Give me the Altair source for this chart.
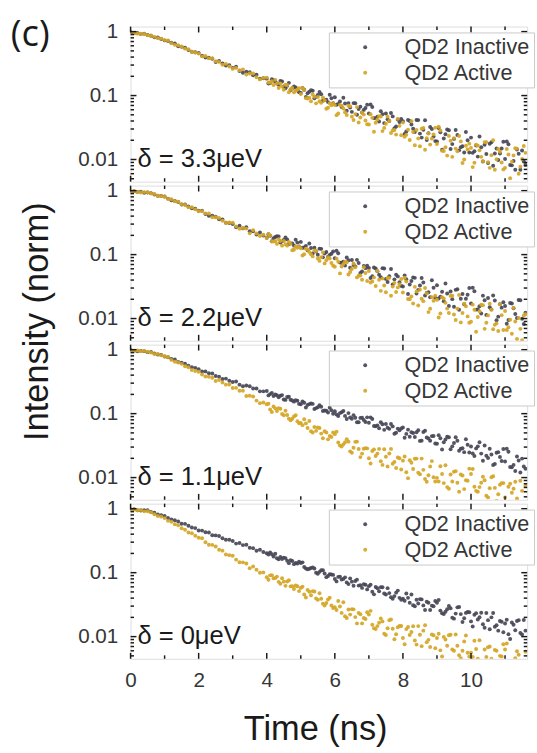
import altair as alt
import pandas as pd

# ---------------- data ----------------
time_ns = [0.0, 0.1, 0.2, 0.3, 0.4, 0.5, 0.6, 0.7, 0.8, 0.9,
           1.0, 1.1, 1.2, 1.3, 1.4, 1.5, 1.6, 1.7, 1.8, 1.9,
           2.0, 2.1, 2.2, 2.3, 2.4, 2.5, 2.6, 2.7, 2.8, 2.9,
           3.0, 3.1, 3.2, 3.3, 3.4, 3.5, 3.6, 3.7, 3.8, 3.9,
           4.0, 4.1, 4.2, 4.3, 4.4, 4.5, 4.6, 4.7, 4.8, 4.9,
           5.0, 5.1, 5.2, 5.3, 5.4, 5.5, 5.6, 5.7, 5.8, 5.9,
           6.0, 6.1, 6.2, 6.3, 6.4, 6.5, 6.6, 6.7, 6.8, 6.9,
           7.0, 7.1, 7.2, 7.3, 7.4, 7.5, 7.6, 7.7, 7.8, 7.9,
           8.0, 8.1, 8.2, 8.3, 8.4, 8.5, 8.6, 8.7, 8.8, 8.9,
           9.0, 9.1, 9.2, 9.3, 9.4, 9.5, 9.6, 9.7, 9.8, 9.9,
           10.0, 10.1, 10.2, 10.3, 10.4, 10.5, 10.6, 10.7, 10.8, 10.9,
           11.0, 11.1, 11.2, 11.3, 11.4, 11.5, 11.6]

# extra (interleaved) time bins of the noisy tail
time_late_ns = [4.05, 4.15, 4.25, 4.35, 4.45, 4.55, 4.65, 4.75, 4.85, 4.95,
                5.05, 5.15, 5.25, 5.35, 5.45, 5.55, 5.65, 5.75, 5.85, 5.95,
                6.05, 6.15, 6.25, 6.35, 6.45, 6.55, 6.65, 6.75, 6.85, 6.95,
                7.05, 7.15, 7.25, 7.35, 7.45, 7.55, 7.65, 7.75, 7.85, 7.95,
                8.05, 8.15, 8.25, 8.35, 8.45, 8.55, 8.65, 8.75, 8.85, 8.95,
                9.05, 9.15, 9.25, 9.35, 9.45, 9.55, 9.65, 9.75, 9.85, 9.95,
                10.05, 10.15, 10.25, 10.35, 10.45, 10.55, 10.65, 10.75, 10.85, 10.95,
                11.05, 11.15, 11.25, 11.35, 11.45, 11.55]

# panel 1: delta = 3.3 ueV
p1_inactive = [0.982, 0.945, 0.952, 0.921, 0.924, 0.883, 0.861, 0.813, 0.808, 0.765,
               0.729, 0.713, 0.668, 0.653, 0.590, 0.578, 0.558, 0.514, 0.483, 0.477,
               0.463, 0.420, 0.393, 0.390, 0.376, 0.335, 0.348, 0.318, 0.296, 0.297,
               0.271, 0.282, 0.242, 0.227, 0.237, 0.232, 0.208, 0.211, 0.183, 0.187,
               0.184, 0.157, 0.174, 0.155, 0.169, 0.139, 0.142, 0.122, 0.139, 0.121,
               0.110, 0.123, 0.109, 0.121, 0.091, 0.102, 0.105, 0.086, 0.079, 0.091,
               0.0942, 0.0740, 0.0661, 0.0750, 0.0762, 0.0556, 0.0759, 0.0618, 0.0542, 0.0638,
               0.0525, 0.0663, 0.0441, 0.0394, 0.0511, 0.0525, 0.0400, 0.0472, 0.0328, 0.0387,
               0.0397, 0.0274, 0.0400, 0.0302, 0.0416, 0.0254, 0.0291, 0.0202, 0.0322, 0.0229,
               0.0192, 0.0267, 0.0213, 0.0295, 0.0146, 0.0210, 0.0242, 0.0155, 0.0129, 0.0200,
               0.0220, 0.0135, 0.0111, 0.0155, 0.0170, 0.0088, 0.0186, 0.0124, 0.0098, 0.0149,
               0.0102, 0.0173, 0.0081, 0.0069, 0.0123, 0.0138, 0.0083]
p1_inactive_late = [0.154, 0.180, 0.166, 0.147, 0.166, 0.130, 0.158, 0.130, 0.134, 0.113,
                    0.132, 0.0948, 0.115, 0.119, 0.0955, 0.114, 0.0832, 0.0858, 0.103, 0.0757,
                    0.0720, 0.0806, 0.0926, 0.0579, 0.0648, 0.0762, 0.0501, 0.0671, 0.0597, 0.0721,
                    0.0727, 0.0444, 0.0467, 0.0569, 0.0371, 0.0425, 0.0534, 0.0308, 0.0422, 0.0430,
                    0.0250, 0.0415, 0.0353, 0.0269, 0.0413, 0.0220, 0.0410, 0.0257, 0.0299, 0.0194,
                    0.0310, 0.0142, 0.0249, 0.0287, 0.0174, 0.0289, 0.0139, 0.0161, 0.0269, 0.0129,
                    0.0127, 0.0166, 0.0229, 0.0093, 0.0122, 0.0176, 0.0080, 0.0149, 0.0124, 0.0189,
                    0.0191, 0.0082, 0.0095, 0.0143, 0.0069, 0.0093]
p1_active = [0.991, 0.954, 0.930, 0.928, 0.916, 0.875, 0.873, 0.828, 0.791, 0.777,
             0.737, 0.725, 0.659, 0.621, 0.612, 0.586, 0.542, 0.529, 0.483, 0.471,
             0.453, 0.410, 0.417, 0.382, 0.385, 0.343, 0.336, 0.303, 0.313, 0.285,
             0.262, 0.271, 0.249, 0.257, 0.213, 0.222, 0.221, 0.194, 0.179, 0.189,
             0.191, 0.160, 0.146, 0.154, 0.154, 0.123, 0.146, 0.126, 0.113, 0.123,
             0.106, 0.122, 0.090, 0.0815, 0.0955, 0.0952, 0.0771, 0.0847, 0.0643, 0.0706,
             0.0709, 0.0525, 0.0692, 0.0549, 0.0692, 0.0468, 0.0513, 0.0380, 0.0537, 0.0408,
             0.0353, 0.0448, 0.0375, 0.0476, 0.0278, 0.0363, 0.0400, 0.0284, 0.0245, 0.0336,
             0.0379, 0.0243, 0.0202, 0.0270, 0.0290, 0.0161, 0.0311, 0.0215, 0.0171, 0.0247,
             0.0175, 0.0285, 0.0136, 0.0115, 0.0197, 0.0216, 0.0134, 0.0192, 0.0100, 0.0143,
             0.0152, 0.0089, 0.0165, 0.0110, 0.0187, 0.0091, 0.0117, 0.0069, 0.0146, 0.0090,
             0.0074, 0.0120, 0.0092, 0.0150, 0.0060, 0.0102, 0.0127]
p1_active_late = [0.160, 0.167, 0.176, 0.131, 0.138, 0.148, 0.113, 0.131, 0.119, 0.130,
                  0.132, 0.0911, 0.0926, 0.104, 0.0755, 0.0814, 0.0931, 0.0623, 0.0759, 0.0752,
                  0.0494, 0.0715, 0.0626, 0.0498, 0.0683, 0.0416, 0.0660, 0.0454, 0.0504, 0.0357,
                  0.0510, 0.0272, 0.0421, 0.0471, 0.0312, 0.0468, 0.0259, 0.0289, 0.0432, 0.0239,
                  0.0227, 0.0293, 0.0396, 0.0167, 0.0214, 0.0304, 0.0142, 0.0256, 0.0212, 0.0315,
                  0.0325, 0.0137, 0.0155, 0.0234, 0.0110, 0.0148, 0.0233, 0.0088, 0.0164, 0.0177,
                  0.0076, 0.0170, 0.0139, 0.0094, 0.0187, 0.0074, 0.0200, 0.0101, 0.0132, 0.0070,
                  0.0146, 0.0051, 0.0116, 0.0148, 0.0077, 0.0163]

# panel 2: delta = 2.2 ueV
p2_inactive = [0.966, 0.975, 0.957, 0.966, 0.927, 0.936, 0.915, 0.869, 0.835, 0.827,
               0.812, 0.751, 0.707, 0.691, 0.664, 0.607, 0.609, 0.566, 0.532, 0.523,
               0.485, 0.487, 0.431, 0.404, 0.407, 0.392, 0.356, 0.353, 0.315, 0.311,
               0.301, 0.267, 0.283, 0.257, 0.267, 0.232, 0.232, 0.206, 0.222, 0.199,
               0.183, 0.197, 0.181, 0.194, 0.155, 0.169, 0.173, 0.150, 0.138, 0.154,
               0.158, 0.129, 0.117, 0.127, 0.128, 0.0993, 0.123, 0.104, 0.0928, 0.103,
               0.0879, 0.105, 0.0745, 0.0673, 0.0817, 0.0824, 0.0655, 0.0738, 0.0545, 0.0614,
               0.0616, 0.0459, 0.0608, 0.0485, 0.0614, 0.0417, 0.0459, 0.0342, 0.0485, 0.0369,
               0.0318, 0.0411, 0.0340, 0.0440, 0.0246, 0.0328, 0.0365, 0.0252, 0.0215, 0.0304,
               0.0331, 0.0220, 0.0186, 0.0247, 0.0265, 0.0153, 0.0287, 0.0204, 0.0167, 0.0236,
               0.0172, 0.0268, 0.0139, 0.0120, 0.0193, 0.0210, 0.0139, 0.0191, 0.0107, 0.0148,
               0.0157, 0.0095, 0.0172, 0.0118, 0.0195, 0.0099, 0.0123]
p2_inactive_late = [0.209, 0.162, 0.188, 0.192, 0.161, 0.185, 0.145, 0.150, 0.171, 0.134,
                    0.128, 0.137, 0.149, 0.104, 0.112, 0.124, 0.0906, 0.110, 0.0991, 0.112,
                    0.115, 0.0750, 0.0773, 0.0903, 0.0622, 0.0689, 0.0828, 0.0514, 0.0665, 0.0669,
                    0.0431, 0.0628, 0.0551, 0.0442, 0.0608, 0.0372, 0.0594, 0.0410, 0.0456, 0.0324,
                    0.0471, 0.0242, 0.0386, 0.0433, 0.0281, 0.0431, 0.0229, 0.0257, 0.0396, 0.0211,
                    0.0206, 0.0263, 0.0353, 0.0157, 0.0201, 0.0281, 0.0137, 0.0242, 0.0204, 0.0300,
                    0.0304, 0.0138, 0.0156, 0.0228, 0.0114, 0.0150, 0.0230, 0.0094, 0.0168, 0.0180,
                    0.0083, 0.0175, 0.0145, 0.0102, 0.0193, 0.0082]
p2_active = [0.973, 0.985, 0.949, 0.936, 0.949, 0.945, 0.899, 0.884, 0.835, 0.821,
             0.801, 0.740, 0.733, 0.683, 0.673, 0.615, 0.596, 0.550, 0.551, 0.510,
             0.476, 0.475, 0.441, 0.438, 0.383, 0.383, 0.373, 0.338, 0.315, 0.317,
             0.314, 0.275, 0.254, 0.261, 0.255, 0.215, 0.240, 0.214, 0.196, 0.204,
             0.182, 0.200, 0.160, 0.147, 0.163, 0.163, 0.138, 0.147, 0.119, 0.128,
             0.126, 0.101, 0.120, 0.101, 0.116, 0.0871, 0.0913, 0.0729, 0.0914, 0.0741,
             0.0645, 0.0771, 0.0652, 0.0777, 0.0488, 0.0596, 0.0635, 0.0467, 0.0404, 0.0516,
             0.0555, 0.0381, 0.0323, 0.0404, 0.0421, 0.0257, 0.0433, 0.0316, 0.0260, 0.0345,
             0.0255, 0.0380, 0.0201, 0.0172, 0.0265, 0.0283, 0.0187, 0.0249, 0.0142, 0.0189,
             0.0197, 0.0120, 0.0206, 0.0143, 0.0226, 0.0116, 0.0143, 0.0087, 0.0170, 0.0108,
             0.0089, 0.0137, 0.0106, 0.0164, 0.0069, 0.0112, 0.0137, 0.0080, 0.0064, 0.0113,
             0.0131, 0.0073, 0.0058, 0.0090, 0.0102, 0.0046, 0.0117]
p2_active_late = [0.211, 0.161, 0.162, 0.174, 0.138, 0.145, 0.158, 0.117, 0.134, 0.133,
                  0.0971, 0.124, 0.110, 0.0938, 0.114, 0.0797, 0.108, 0.0818, 0.0866, 0.0670,
                  0.0864, 0.0508, 0.0711, 0.0760, 0.0534, 0.0725, 0.0440, 0.0470, 0.0637, 0.0386,
                  0.0365, 0.0440, 0.0553, 0.0271, 0.0328, 0.0429, 0.0227, 0.0361, 0.0307, 0.0416,
                  0.0436, 0.0202, 0.0222, 0.0313, 0.0160, 0.0204, 0.0300, 0.0126, 0.0216, 0.0227,
                  0.0104, 0.0216, 0.0176, 0.0122, 0.0227, 0.0095, 0.0233, 0.0122, 0.0155, 0.0086,
                  0.0165, 0.0062, 0.0130, 0.0161, 0.0086, 0.0171, 0.0068, 0.0084, 0.0167, 0.0066,
                  0.0066, 0.0096, 0.0146, 0.0048, 0.0069, 0.0112]

# panel 3: delta = 1.1 ueV
p3_inactive = [0.991, 0.963, 0.947, 0.954, 0.950, 0.916, 0.919, 0.875, 0.839, 0.829,
               0.783, 0.764, 0.719, 0.701, 0.641, 0.627, 0.604, 0.561, 0.530, 0.520,
               0.495, 0.456, 0.458, 0.427, 0.425, 0.387, 0.378, 0.348, 0.353, 0.327,
               0.313, 0.318, 0.284, 0.269, 0.275, 0.268, 0.247, 0.247, 0.223, 0.223,
               0.226, 0.202, 0.189, 0.194, 0.191, 0.166, 0.182, 0.165, 0.154, 0.159,
               0.140, 0.148, 0.137, 0.144, 0.118, 0.126, 0.128, 0.112, 0.104, 0.113,
               0.109, 0.0921, 0.105, 0.0922, 0.102, 0.0832, 0.0861, 0.0732, 0.0861, 0.0741,
               0.0721, 0.0822, 0.0637, 0.0590, 0.0683, 0.0687, 0.0578, 0.0632, 0.0503, 0.0551,
               0.0608, 0.0482, 0.0434, 0.0497, 0.0510, 0.0375, 0.0516, 0.0424, 0.0376, 0.0446,
               0.0339, 0.0413, 0.0357, 0.0434, 0.0278, 0.0347, 0.0376, 0.0283, 0.0250, 0.0326,
               0.0306, 0.0217, 0.0308, 0.0237, 0.0318, 0.0202, 0.0229, 0.0163, 0.0250, 0.0182,
               0.0179, 0.0253, 0.0145, 0.0127, 0.0185, 0.0198, 0.0137]
p3_inactive_late = [0.193, 0.211, 0.199, 0.181, 0.195, 0.164, 0.184, 0.161, 0.162, 0.142,
                    0.155, 0.125, 0.141, 0.142, 0.122, 0.135, 0.110, 0.111, 0.124, 0.0996,
                    0.0970, 0.102, 0.110, 0.0823, 0.0869, 0.0947, 0.0732, 0.0858, 0.0793, 0.0875,
                    0.0875, 0.0642, 0.0656, 0.0734, 0.0558, 0.0602, 0.0687, 0.0484, 0.0583, 0.0585,
                    0.0420, 0.0562, 0.0510, 0.0430, 0.0551, 0.0378, 0.0541, 0.0408, 0.0445, 0.0342,
                    0.0458, 0.0275, 0.0393, 0.0428, 0.0308, 0.0427, 0.0263, 0.0287, 0.0398, 0.0246,
                    0.0238, 0.0286, 0.0357, 0.0183, 0.0219, 0.0283, 0.0157, 0.0245, 0.0210, 0.0280,
                    0.0283, 0.0146, 0.0158, 0.0214, 0.0120, 0.0149]
p3_active = [0.982, 0.954, 0.969, 0.948, 0.959, 0.925, 0.906, 0.859, 0.858, 0.816,
             0.790, 0.769, 0.693, 0.647, 0.632, 0.601, 0.550, 0.531, 0.481, 0.464,
             0.453, 0.409, 0.381, 0.378, 0.364, 0.323, 0.335, 0.306, 0.284, 0.285,
             0.252, 0.253, 0.228, 0.228, 0.189, 0.191, 0.185, 0.160, 0.146, 0.149,
             0.140, 0.116, 0.129, 0.110, 0.119, 0.0944, 0.0953, 0.0790, 0.0906, 0.0760,
             0.0717, 0.0819, 0.0595, 0.0532, 0.0617, 0.0608, 0.0487, 0.0529, 0.0396, 0.0431,
             0.0478, 0.0353, 0.0306, 0.0358, 0.0365, 0.0245, 0.0362, 0.0280, 0.0237, 0.0289,
             0.0201, 0.0260, 0.0217, 0.0281, 0.0158, 0.0212, 0.0238, 0.0165, 0.0141, 0.0201,
             0.0184, 0.0121, 0.0187, 0.0136, 0.0198, 0.0113, 0.0132, 0.0086, 0.0149, 0.0101,
             0.0099, 0.0150, 0.0082, 0.0071, 0.0112, 0.0123, 0.0083, 0.0112, 0.0066, 0.0089,
             0.0114, 0.0072, 0.0060, 0.0083, 0.0091, 0.0049, 0.0101, 0.0069, 0.0055, 0.0082,
             0.0049, 0.0072, 0.0058, 0.0086, 0.0040, 0.0062, 0.0074]
p3_active_late = [0.143, 0.106, 0.121, 0.122, 0.0985, 0.111, 0.0835, 0.0834, 0.0942, 0.0708,
                  0.0661, 0.0704, 0.0765, 0.0506, 0.0538, 0.0597, 0.0412, 0.0506, 0.0446, 0.0506,
                  0.0523, 0.0318, 0.0331, 0.0399, 0.0257, 0.0292, 0.0365, 0.0209, 0.0283, 0.0286,
                  0.0166, 0.0276, 0.0237, 0.0180, 0.0278, 0.0149, 0.0281, 0.0176, 0.0206, 0.0134,
                  0.0214, 0.0098, 0.0171, 0.0197, 0.0119, 0.0198, 0.0095, 0.0109, 0.0181, 0.0087,
                  0.0087, 0.0114, 0.0156, 0.0067, 0.0087, 0.0126, 0.0060, 0.0108, 0.0091, 0.0138,
                  0.0136, 0.0062, 0.0071, 0.0103, 0.0052, 0.0068, 0.0105, 0.0043, 0.0077, 0.0082,
                  0.0038, 0.0080, 0.0067, 0.0047, 0.0089, 0.0038]

# panel 4: delta = 0 ueV
p4_inactive = [0.973, 0.985, 0.949, 0.936, 0.949, 0.945, 0.890, 0.868, 0.812, 0.792,
               0.773, 0.718, 0.678, 0.659, 0.632, 0.582, 0.580, 0.541, 0.509, 0.498,
               0.458, 0.455, 0.429, 0.426, 0.384, 0.383, 0.374, 0.345, 0.327, 0.328,
               0.313, 0.285, 0.292, 0.270, 0.274, 0.245, 0.242, 0.220, 0.229, 0.210,
               0.201, 0.208, 0.179, 0.168, 0.176, 0.172, 0.154, 0.156, 0.136, 0.139,
               0.142, 0.123, 0.113, 0.118, 0.116, 0.0962, 0.109, 0.0970, 0.0886, 0.0938,
               0.0794, 0.0859, 0.0782, 0.0845, 0.0663, 0.0724, 0.0739, 0.0628, 0.0578, 0.0647,
               0.0616, 0.0503, 0.0598, 0.0511, 0.0590, 0.0455, 0.0479, 0.0392, 0.0487, 0.0404,
               0.0392, 0.0472, 0.0338, 0.0309, 0.0378, 0.0386, 0.0308, 0.0352, 0.0261, 0.0298,
               0.0339, 0.0255, 0.0225, 0.0268, 0.0278, 0.0191, 0.0287, 0.0225, 0.0194, 0.0242,
               0.0173, 0.0220, 0.0185, 0.0236, 0.0138, 0.0181, 0.0200, 0.0143, 0.0124, 0.0171,
               0.0160, 0.0109, 0.0166, 0.0126, 0.0181, 0.0108, 0.0124]
p4_inactive_late = [0.193, 0.194, 0.198, 0.162, 0.164, 0.169, 0.141, 0.152, 0.142, 0.148,
                    0.145, 0.116, 0.115, 0.121, 0.100, 0.103, 0.109, 0.0852, 0.0942, 0.0923,
                    0.0731, 0.0868, 0.0800, 0.0705, 0.0814, 0.0626, 0.0778, 0.0636, 0.0662, 0.0548,
                    0.0650, 0.0458, 0.0569, 0.0594, 0.0471, 0.0573, 0.0412, 0.0430, 0.0524, 0.0376,
                    0.0365, 0.0404, 0.0456, 0.0298, 0.0329, 0.0382, 0.0260, 0.0339, 0.0305, 0.0361,
                    0.0374, 0.0232, 0.0245, 0.0302, 0.0198, 0.0229, 0.0291, 0.0169, 0.0235, 0.0241,
                    0.0144, 0.0233, 0.0201, 0.0156, 0.0234, 0.0130, 0.0234, 0.0151, 0.0175, 0.0117,
                    0.0183, 0.0092, 0.0153, 0.0176, 0.0114, 0.0182]
p4_active = [0.966, 0.971, 0.949, 0.953, 0.910, 0.915, 0.878, 0.818, 0.772, 0.752,
             0.714, 0.646, 0.627, 0.572, 0.552, 0.494, 0.469, 0.425, 0.415, 0.377,
             0.352, 0.345, 0.300, 0.274, 0.272, 0.256, 0.228, 0.221, 0.193, 0.188,
             0.184, 0.160, 0.146, 0.145, 0.139, 0.117, 0.125, 0.111, 0.100, 0.101,
             0.0851, 0.0908, 0.0815, 0.0868, 0.0672, 0.0724, 0.0730, 0.0611, 0.0554, 0.0612,
             0.0578, 0.0455, 0.0538, 0.0444, 0.0509, 0.0376, 0.0390, 0.0307, 0.0380, 0.0306,
             0.0288, 0.0360, 0.0235, 0.0208, 0.0265, 0.0269, 0.0202, 0.0235, 0.0161, 0.0188,
             0.0221, 0.0153, 0.0131, 0.0165, 0.0173, 0.0106, 0.0181, 0.0133, 0.0109, 0.0147,
             0.0095, 0.0131, 0.0106, 0.0145, 0.0075, 0.0107, 0.0124, 0.0082, 0.0069, 0.0105,
             0.0095, 0.0061, 0.0099, 0.0072, 0.0107, 0.0060, 0.0072, 0.0046, 0.0084, 0.0056,
             0.0056, 0.0086, 0.0045, 0.0039, 0.0063, 0.0068, 0.0045, 0.0062, 0.0035, 0.0049,
             0.0063, 0.0039, 0.0032, 0.0046, 0.0052, 0.0027, 0.0058]
p4_active_late = [0.0777, 0.0911, 0.0827, 0.0719, 0.0818, 0.0622, 0.0762, 0.0615, 0.0630, 0.0515,
                  0.0604, 0.0408, 0.0503, 0.0514, 0.0395, 0.0476, 0.0328, 0.0336, 0.0406, 0.0281,
                  0.0261, 0.0295, 0.0344, 0.0196, 0.0221, 0.0267, 0.0161, 0.0224, 0.0195, 0.0241,
                  0.0253, 0.0135, 0.0146, 0.0192, 0.0111, 0.0135, 0.0185, 0.0091, 0.0140, 0.0147,
                  0.0076, 0.0141, 0.0118, 0.0087, 0.0146, 0.0071, 0.0151, 0.0089, 0.0108, 0.0066,
                  0.0111, 0.0049, 0.0090, 0.0105, 0.0063, 0.0108, 0.0051, 0.0060, 0.0104, 0.0049,
                  0.0048, 0.0064, 0.0088, 0.0037, 0.0048, 0.0070, 0.0032, 0.0060, 0.0050, 0.0076,
                  0.0078, 0.0033, 0.0038, 0.0059, 0.0028, 0.0039]

panel_labels = ["δ = 3.3μeV", "δ = 2.2μeV", "δ = 1.1μeV", "δ = 0μeV"]
series_names = ["QD2 Inactive", "QD2 Active"]
x_major = [0, 2, 4, 6, 8, 10]
x_minor = [1, 3, 5, 7, 9, 11]
y_major = [0.01, 0.1, 1]
y_minor = [0.005, 0.006, 0.007, 0.008, 0.009,
           0.02, 0.03, 0.04, 0.05, 0.06, 0.07, 0.08, 0.09,
           0.2, 0.3, 0.4, 0.5, 0.6, 0.7, 0.8, 0.9]

# ---------------- layout / style ----------------
W, H = 404, 158
X_DOMAIN = [0, 11.65]
Y_DOMAIN = [0.0045, 1.2]
COLORS = ["#474757", "#d5a626"]
FONT = "Liberation Sans"
INK = "#1a1a1a"
LABEL = "#363636"
ANNOT_T = 0.2
ANNOT_I = 0.0102
MAJ, MIN = 6, 3.5


def make_panel(i, inactive, inactive_late, active, active_late, label):
    n, m = len(time_ns), len(time_late_ns)
    df = pd.DataFrame({
        "t": time_ns + time_late_ns + time_ns + time_late_ns,
        "I": inactive + inactive_late + active + active_late,
        "series": [series_names[0]] * (n + m) + [series_names[1]] * (n + m),
    })
    xs = alt.Scale(domain=X_DOMAIN, nice=False, zero=False)
    ys = alt.Scale(type="log", domain=Y_DOMAIN, nice=False)

    if i == 3:
        xenc = alt.X("t:Q", scale=xs, axis=alt.Axis(
            values=x_major, format="d", ticks=False, domain=False, grid=False,
            labelFlush=False, labelFontSize=21, labelPadding=11, labelColor=LABEL,
            labelFont=FONT,
            title="Time (ns)", titleFontSize=35, titleFont=FONT, titleFontWeight="normal",
            titleColor=INK, titleX=188, titleY=71, titleBaseline="middle", titleAlign="center"))
    else:
        xenc = alt.X("t:Q", scale=xs, axis=None)

    ykw = dict(values=y_major, format="~g", ticks=False, domain=False, grid=False,
               labelFlush=False, labelFontSize=21, labelPadding=13, labelColor=LABEL,
               labelFont=FONT)
    if i == 1:
        yenc = alt.Y("I:Q", scale=ys, axis=alt.Axis(
            title="Intensity (norm)", titleFontSize=35, titleFont=FONT, titleFontWeight="normal",
            titleColor=INK, titleAngle=270, titleX=-96, titleY=138,
            titleAlign="center", titleBaseline="middle", **ykw))
    else:
        yenc = alt.Y("I:Q", scale=ys, title=None, axis=alt.Axis(**ykw))

    legend = alt.Legend(
        title=None, orient="none", legendX=202, legendY=6, direction="vertical",
        labelFontSize=22, labelFont=FONT, labelColor=LABEL, symbolType="circle",
        symbolSize=16, symbolOffset=22, labelOffset=29, padding=4, rowPadding=4,
        strokeColor="#c9c9c9", fillColor="#ffffff", symbolStrokeWidth=0, labelLimit=300)

    pts = alt.Chart(df).mark_circle(size=16, opacity=0.92, clip=True).encode(
        x=xenc, y=yenc,
        color=alt.Color("series:N", scale=alt.Scale(domain=series_names, range=COLORS),
                        legend=legend),
    )

    def xticks(vals, y0, y1):
        return alt.Chart(pd.DataFrame({"v": vals})).mark_rule(color=INK, strokeWidth=1.5).encode(
            x=alt.X("v:Q", scale=xs, axis=None), y=alt.value(y0), y2=alt.value(y1))

    def yticks(vals, x0, x1):
        return alt.Chart(pd.DataFrame({"v": vals})).mark_rule(color=INK, strokeWidth=1.5).encode(
            y=alt.Y("v:Q", scale=ys, axis=None), x=alt.value(x0), x2=alt.value(x1))

    annot = alt.Chart(pd.DataFrame({"txt": [label]})).mark_text(
        align="left", baseline="middle", fontSize=26, font=FONT, color=INK
    ).encode(x=alt.X(datum=ANNOT_T, axis=None), y=alt.Y(datum=ANNOT_I, axis=None), text="txt:N")

    layers = [pts,
              xticks(x_major, H, H - MAJ), xticks(x_minor, H, H - MIN),
              xticks(x_major, 0, MAJ), xticks(x_minor, 0, MIN),
              yticks(y_major, 0, MAJ), yticks(y_minor, 0, MIN),
              yticks(y_major, W, W - MAJ), yticks(y_minor, W, W - MIN),
              annot]
    if i == 0:
        tag = alt.Chart(pd.DataFrame({"txt": ["(c)"]})).mark_text(
            align="left", baseline="middle", fontSize=37, font="Open Sans", color=INK
        ).encode(x=alt.value(-122), y=alt.value(9), text="txt:N")
        layers.append(tag)
    return alt.layer(*layers).resolve_axis(x="independent", y="independent").properties(
        width=W, height=H)


series = [(p1_inactive, p1_inactive_late, p1_active, p1_active_late),
          (p2_inactive, p2_inactive_late, p2_active, p2_active_late),
          (p3_inactive, p3_inactive_late, p3_active, p3_active_late),
          (p4_inactive, p4_inactive_late, p4_active, p4_active_late)]
panels = [make_panel(i, *s, panel_labels[i]) for i, s in enumerate(series)]

chart = alt.vconcat(*panels, spacing=4, bounds="flush").resolve_scale(
    color="independent").resolve_legend(color="independent").properties(
    padding={"left": 10, "top": 9, "right": 2, "bottom": 4}
).configure_view(stroke=INK, strokeWidth=2).configure(background="white")

chart.save("out.html", embed_options={"renderer": "svg", "actions": False})
